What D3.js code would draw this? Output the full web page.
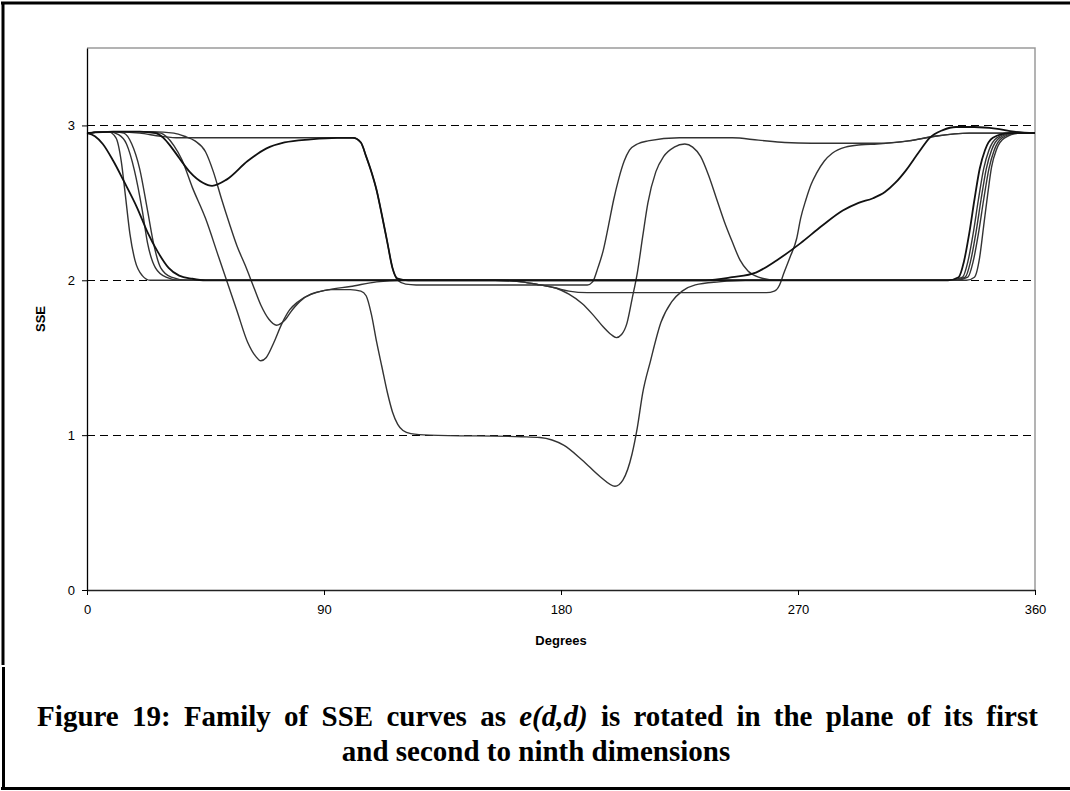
<!DOCTYPE html>
<html>
<head>
<meta charset="utf-8">
<script src="https://cdn.jsdelivr.net/npm/d3@7"></script>
<style>
  body { margin: 0; background: #fff; }
  svg { display: block; }
</style>
</head>
<body>
<script>
// [degrees, SSE], one array per rotation plane
const curveDip45 = [[0,2.95],[10,2.96],[20,2.96],[26,2.95],[29,2.92],[32,2.86],[35,2.79],[39,2.7],[44,2.63],[47.5,2.61],[53,2.65],[61,2.77],[68,2.85],[75,2.89],[85,2.91],[95,2.92],[101,2.92],[104,2.89],[106,2.8],[108,2.7],[110,2.58],[112,2.42],[114,2.25],[116,2.08],[118,2.01],[122,2.0],[327,2.0],[331,2.02],[333,2.12],[335,2.3],[337,2.52],[339,2.72],[341,2.84],[344,2.92],[350,2.95],[360,2.95]];
const curvePlateau = [[0,2.95],[10,2.96],[20,2.95],[28,2.93],[35,2.92],[101,2.92],[104,2.89],[106,2.8],[108,2.7],[110,2.58],[112,2.42],[114,2.25],[116,2.08],[118,2.0],[121,1.975],[125,1.97],[190,1.97],[192,1.99],[194,2.08],[196,2.19],[198,2.35],[200,2.52],[202,2.66],[204,2.77],[206,2.84],[209,2.88],[213,2.9],[225,2.92],[245,2.92],[255,2.905],[265,2.89],[275,2.885],[300,2.885],[312,2.9],[322,2.93],[335,2.95],[360,2.95]];
const curveMin148 = [[0,2.95],[10,2.96],[22,2.96],[28,2.95],[30,2.93],[33,2.87],[36,2.78],[40,2.6],[45,2.4],[50,2.15],[53,2.0],[57,1.8],[61,1.6],[64,1.51],[66,1.48],[68,1.5],[71,1.6],[74,1.72],[77,1.81],[80,1.86],[85,1.91],[92,1.94],[100,1.96],[110,1.99],[120,2.0],[155,2.0],[165,1.99],[172,1.97],[178,1.95],[183,1.91],[188,1.85],[192,1.78],[196,1.7],[199,1.65],[201,1.63],[203,1.65],[205,1.72],[207,1.88],[209,2.05],[211,2.28],[213,2.5],[216,2.7],[219,2.8],[223,2.86],[227,2.88],[230,2.86],[233,2.8],[236,2.68],[239,2.53],[242,2.38],[245,2.25],[248,2.13],[251,2.06],[255,2.02],[262,2.0],[328,2.0],[332.5,2.02],[334.5,2.12],[336.5,2.3],[338.5,2.52],[340.5,2.72],[342.5,2.84],[345.5,2.92],[351,2.95],[360,2.95]];
const curveMin067 = [[0,2.95],[10,2.96],[25,2.96],[33,2.95],[37,2.93],[41,2.9],[45,2.83],[48,2.7],[51,2.53],[54,2.37],[57,2.22],[60,2.1],[63,1.97],[66,1.84],[69,1.75],[72,1.71],[75,1.74],[78,1.81],[82,1.88],[87,1.92],[93,1.94],[100,1.94],[104,1.93],[106,1.9],[108,1.78],[110,1.6],[112,1.44],[114,1.28],[116,1.15],[118,1.07],[120,1.03],[123,1.01],[130,1.0],[165,0.99],[172,0.985],[181,0.935],[188,0.84],[195,0.73],[200.5,0.67],[203.5,0.71],[207,0.88],[209,1.05],[211,1.27],[214,1.48],[218,1.73],[222,1.86],[226,1.93],[231,1.97],[240,1.99],[250,2.0],[329,2.0],[333.5,2.02],[335.5,2.12],[337.5,2.3],[339.5,2.52],[341.5,2.72],[343.5,2.84],[346.5,2.92],[352,2.95],[360,2.95]];
const curveEarly16 = [[0,2.95],[8,2.96],[11,2.92],[13,2.77],[14.5,2.56],[16.3,2.3],[18.2,2.13],[21,2.03],[24,2.0],[334,2.0],[337,2.02],[339,2.15],[340.5,2.35],[342,2.55],[343.5,2.73],[345.5,2.85],[348.5,2.92],[354,2.95],[360,2.95]];
const curveSlow = [[0,2.95],[3,2.93],[6,2.88],[10,2.77],[14,2.64],[19,2.47],[23,2.31],[27,2.18],[31,2.08],[35,2.03],[40,2.01],[45,2.0],[235,2.0],[245,2.02],[254,2.05],[262,2.13],[271,2.24],[279,2.35],[287,2.45],[293,2.5],[298.5,2.53],[303,2.57],[307,2.63],[311,2.71],[316,2.83],[320,2.92],[325,2.97],[330,2.99],[337,2.99],[345,2.98],[352,2.96],[360,2.95]];
const curveStep192 = [[0,2.95],[8,2.96],[12,2.94],[15,2.88],[18,2.71],[21,2.45],[23,2.24],[26,2.08],[30,2.02],[35,2.0],[155,2.0],[165,1.99],[172,1.97],[178,1.95],[183,1.93],[190,1.92],[258,1.92],[261,1.93],[263,1.97],[264.5,2.04],[267,2.15],[269.5,2.27],[271,2.4],[273,2.52],[275,2.62],[277,2.69],[280,2.77],[283,2.82],[288,2.86],[294,2.875],[300,2.88],[312,2.9],[322,2.93],[335,2.95],[360,2.95]];
const curveEarly22 = [[0,2.95],[10,2.96],[14,2.95],[17,2.88],[20,2.72],[23,2.45],[25.5,2.22],[28,2.08],[32,2.02],[38,2.0],[330,2.0],[334.5,2.02],[336.5,2.12],[338.5,2.3],[340.5,2.52],[342.5,2.72],[344.5,2.84],[347.5,2.92],[353,2.95],[360,2.95]];

const curves = [curveEarly16, curveEarly22, curveStep192, curveMin148, curveMin067, curvePlateau, curveDip45, curveSlow];
const heavyCurves = [curveDip45, curveSlow];

const xTicks = [0, 90, 180, 270, 360];
const yTicks = [0, 1, 2, 3];
const gridValues = [1, 2, 3];

const width = 1070;
const height = 791;

const svg = d3.select('body').append('svg')
    .attr('width', width)
    .attr('height', height);

// outer frame (figure box + caption box)
svg.append('line').attr('x1', 1).attr('x2', width).attr('y1', 3).attr('y2', 3)
    .attr('stroke', '#000').attr('stroke-width', 3);
svg.append('line').attr('x1', 1).attr('x2', width).attr('y1', 788.5).attr('y2', 788.5)
    .attr('stroke', '#000').attr('stroke-width', 3);
svg.append('line').attr('x1', 3).attr('x2', 3).attr('y1', 2).attr('y2', 665)
    .attr('stroke', '#000').attr('stroke-width', 3);
svg.append('line').attr('x1', 3.5).attr('x2', 3.5).attr('y1', 667).attr('y2', 790)
    .attr('stroke', '#000').attr('stroke-width', 3);

const x = d3.scaleLinear().domain([0, 360]).range([87, 1035]);
const y = d3.scaleLinear().domain([0, 3.5]).range([590, 48]);

const g = svg.append('g');

// plot area border (top/right in grey)
g.append('path')
    .attr('d', `M${x(0)},${y(3.5)}H${x(360)}V${y(0)}`)
    .attr('fill', 'none')
    .attr('stroke', '#9a9a9a')
    .attr('stroke-width', 1.5);

// dashed gridlines
g.selectAll('line.grid')
    .data(gridValues)
    .enter()
    .append('line')
    .attr('class', 'grid')
    .attr('x1', x(0))
    .attr('x2', x(360))
    .attr('y1', d => Math.round(y(d)) + 0.5)
    .attr('y2', d => Math.round(y(d)) + 0.5)
    .attr('stroke', '#000')
    .attr('stroke-width', 1)
    .attr('stroke-dasharray', '8,5');

const line = d3.line()
    .x(d => x(d[0]))
    .y(d => y(d[1]))
    .curve(d3.curveMonotoneX);

g.selectAll('path.sse')
    .data(curves)
    .enter()
    .append('path')
    .attr('class', 'sse')
    .attr('d', line)
    .attr('fill', 'none')
    .attr('stroke', d => heavyCurves.includes(d) ? '#111' : '#333')
    .attr('stroke-width', d => heavyCurves.includes(d) ? 1.8 : 1.4);

// axes
const yAxis = d3.axisLeft(y)
    .tickValues(yTicks)
    .tickFormat(d3.format('d'))
    .tickSize(5)
    .tickSizeOuter(0)
    .tickPadding(7);

const xAxis = d3.axisBottom(x)
    .tickValues(xTicks)
    .tickFormat(d3.format('d'))
    .tickSize(5)
    .tickSizeOuter(0)
    .tickPadding(10);

g.append('g')
    .attr('transform', `translate(${x(0)},0)`)
    .call(yAxis)
    .call(a => a.select('.domain').attr('stroke', '#000').attr('stroke-width', 1.3))
    .call(a => a.selectAll('text').attr('font-family', 'Liberation Sans, Arial, sans-serif').attr('font-size', 13).attr('fill', '#000'));

g.append('g')
    .attr('transform', `translate(0,${y(0)})`)
    .call(xAxis)
    .call(a => a.select('.domain').attr('stroke', '#222').attr('stroke-width', 1.5))
    .call(a => a.selectAll('text').attr('font-family', 'Liberation Sans, Arial, sans-serif').attr('font-size', 13).attr('fill', '#000'));

// axis titles
svg.append('text')
    .attr('transform', 'translate(45,319) rotate(-90)')
    .attr('text-anchor', 'middle')
    .attr('font-family', 'Liberation Sans, Arial, sans-serif')
    .attr('font-size', 13)
    .attr('font-weight', 'bold')
    .text('SSE');

svg.append('text')
    .attr('x', 561)
    .attr('y', 645)
    .attr('text-anchor', 'middle')
    .attr('font-family', 'Liberation Sans, Arial, sans-serif')
    .attr('font-size', 13)
    .attr('font-weight', 'bold')
    .text('Degrees');

// caption (first line justified, so wider word gaps)
const cap = svg.append('text')
    .attr('text-anchor', 'middle')
    .attr('font-family', 'Liberation Serif, Times New Roman, serif')
    .attr('font-size', 29)
    .attr('font-weight', 'bold');

const l1 = cap.append('tspan').attr('x', 537.5).attr('y', 726).attr('word-spacing', 6);
l1.append('tspan').text('Figure 19: Family of SSE curves as ');
l1.append('tspan').attr('font-style', 'italic').text('e(d,d)');
l1.append('tspan').text(' is rotated in the plane of its first');
cap.append('tspan').attr('x', 536).attr('y', 761).attr('word-spacing', 0).text('and second to ninth dimensions');
</script>
</body>
</html>
